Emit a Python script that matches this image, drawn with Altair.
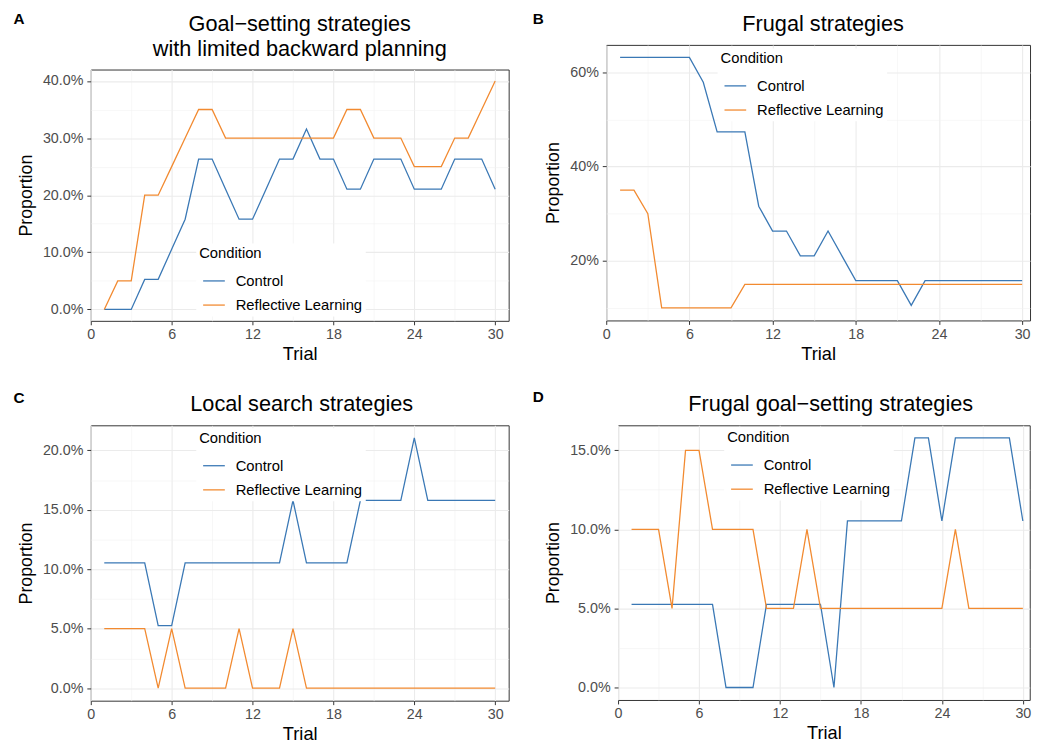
import json
import altair as alt
import pandas as pd

# ---------------- data ----------------
trials = list(range(1, 31))
conditions = ["Control", "Reflective Learning"]
colors = ["#3A78B5", "#F28A30"]

goal_control = [0.0, 0.0, 0.0, 0.0526, 0.0526, 0.1053, 0.1579, 0.2632, 0.2632, 0.2105,
                0.1579, 0.1579, 0.2105, 0.2632, 0.2632, 0.3158, 0.2632, 0.2632, 0.2105, 0.2105,
                0.2632, 0.2632, 0.2632, 0.2105, 0.2105, 0.2105, 0.2632, 0.2632, 0.2632, 0.2105]
goal_reflective = [0.0, 0.05, 0.05, 0.20, 0.20, 0.25, 0.30, 0.35, 0.35, 0.30,
                   0.30, 0.30, 0.30, 0.30, 0.30, 0.30, 0.30, 0.30, 0.35, 0.35,
                   0.30, 0.30, 0.30, 0.25, 0.25, 0.25, 0.30, 0.30, 0.35, 0.40]

frugal_control = [0.6316, 0.6316, 0.6316, 0.6316, 0.6316, 0.6316, 0.5789, 0.4737, 0.4737, 0.4737,
                  0.3158, 0.2632, 0.2632, 0.2105, 0.2105, 0.2632, 0.2105, 0.1579, 0.1579, 0.1579,
                  0.1579, 0.1053, 0.1579, 0.1579, 0.1579, 0.1579, 0.1579, 0.1579, 0.1579, 0.1579]
frugal_reflective = [0.35, 0.35, 0.30, 0.10, 0.10, 0.10, 0.10, 0.10, 0.10, 0.15,
                     0.15, 0.15, 0.15, 0.15, 0.15, 0.15, 0.15, 0.15, 0.15, 0.15,
                     0.15, 0.15, 0.15, 0.15, 0.15, 0.15, 0.15, 0.15, 0.15, 0.15]

local_control = [0.1053, 0.1053, 0.1053, 0.1053, 0.0526, 0.0526, 0.1053, 0.1053, 0.1053, 0.1053,
                 0.1053, 0.1053, 0.1053, 0.1053, 0.1579, 0.1053, 0.1053, 0.1053, 0.1053, 0.1579,
                 0.1579, 0.1579, 0.1579, 0.2105, 0.1579, 0.1579, 0.1579, 0.1579, 0.1579, 0.1579]
local_reflective = [0.05, 0.05, 0.05, 0.05, 0.0, 0.05, 0.0, 0.0, 0.0, 0.0,
                    0.05, 0.0, 0.0, 0.0, 0.05, 0.0, 0.0, 0.0, 0.0, 0.0,
                    0.0, 0.0, 0.0, 0.0, 0.0, 0.0, 0.0, 0.0, 0.0, 0.0]

fgoal_control = [0.0526, 0.0526, 0.0526, 0.0526, 0.0526, 0.0526, 0.0526, 0.0, 0.0, 0.0,
                 0.0526, 0.0526, 0.0526, 0.0526, 0.0526, 0.0, 0.1053, 0.1053, 0.1053, 0.1053,
                 0.1053, 0.1579, 0.1579, 0.1053, 0.1579, 0.1579, 0.1579, 0.1579, 0.1579, 0.1053]
fgoal_reflective = [0.10, 0.10, 0.10, 0.05, 0.15, 0.15, 0.10, 0.10, 0.10, 0.10,
                    0.05, 0.05, 0.05, 0.10, 0.05, 0.05, 0.05, 0.05, 0.05, 0.05,
                    0.05, 0.05, 0.05, 0.05, 0.10, 0.05, 0.05, 0.05, 0.05, 0.05]

titles = {
    "A": ["Goal\u2212setting strategies", "with limited backward planning"],
    "B": ["Frugal strategies"],
    "C": ["Local search strategies"],
    "D": ["Frugal goal\u2212setting strategies"],
}

x_major = [0, 6, 12, 18, 24, 30]
x_minor = [3, 9, 15, 21, 27]

FONT = "Liberation Sans"


def cond(test, a, b):
    return {"condition": {"test": test, "value": a}, "value": b}


def axis(title, majors, minors, fmt=None, is_y=False):
    test = "indexof(%s, datum.value) >= 0" % json.dumps(majors)
    kw = dict(
        title=title,
        values=sorted(majors + minors),
        labelExpr="%s ? datum.label : ''" % test,
        gridColor=cond(test, "#EBEBEB", "#F1F1F1"),
        gridWidth=cond(test, 1.1, 0.6),
        tickOpacity=cond(test, 1, 0),
        tickSize=4,
        tickColor="#333333",
        tickWidth=1,
        domain=False,
        labelFontSize=14.5,
        labelColor="#4D4D4D",
        labelFont=FONT,
        titleFont=FONT,
        titleFontSize=18.5 if not is_y else 18,
        titleFontWeight="normal",
        titleColor="black",
        labelFlush=False,
        labelOverlap=False,
        labelPadding=4 if is_y else 3,
        titlePadding=7 if is_y else 4,
    )
    if fmt:
        kw["format"] = fmt
    return alt.Axis(**kw)


def ydomain(a, b):
    lo = min(min(a), min(b))
    hi = max(max(a), max(b))
    pad = (hi - lo) * 0.05
    return [lo - pad, hi + pad]


def panel(letter, ctrl, refl, ymaj, ymin, fmt, xmax, width, height,
          legx, legy, letx, lety, titx, tity):
    df = pd.DataFrame({
        "Trial": trials + trials,
        "Proportion": ctrl + refl,
        "Condition": [conditions[0]] * len(trials) + [conditions[1]] * len(trials),
    })
    lines = alt.Chart(df).mark_line(strokeWidth=1.3).encode(
        x=alt.X("Trial:Q", scale=alt.Scale(domain=[0, xmax], nice=False, zero=False),
                axis=axis("Trial", x_major, x_minor)),
        y=alt.Y("Proportion:Q", scale=alt.Scale(domain=ydomain(ctrl, refl), nice=False, zero=False),
                axis=axis("Proportion", ymaj, ymin, fmt, True)),
        color=alt.Color("Condition:N", scale=alt.Scale(domain=conditions, range=colors),
                        legend=alt.Legend(
                            orient="none", legendX=legx, legendY=legy,
                            title="Condition", titleFontSize=15, titleFontWeight="normal",
                            titleColor="black", titleFont=FONT,
                            labelFontSize=15, labelColor="black", labelFont=FONT,
                            symbolType="stroke", symbolSize=484, symbolStrokeWidth=1.3,
                            labelOffset=10, symbolOffset=3, rowPadding=4.5, titlePadding=8,
                            padding=3, fillColor="white", direction="vertical")),
    )
    lab = alt.Chart(pd.DataFrame({"t": [letter]})).mark_text(
        font=FONT, fontSize=15.5, fontWeight="bold", align="left", baseline="alphabetic",
        color="black").encode(text="t:N", x=alt.value(letx), y=alt.value(lety))
    ttl = alt.Chart(pd.DataFrame({"t": [letter]})).mark_text(
        font=FONT, fontSize=22, align="center", baseline="alphabetic", lineHeight=25,
        color="black").encode(text=alt.value(titles[letter]), x=alt.value(titx), y=alt.value(tity))
    body = alt.layer(lines, lab, ttl).properties(width=width, height=height)
    # tiny invisible spacer so that the panel's full bounds (not its plot origin)
    # are what the outer grid aligns on
    spacer = alt.Chart(pd.DataFrame({"t": [letter]})).mark_point(opacity=0, size=0).encode(
        x=alt.value(0), y=alt.value(0)
    ).properties(width=1, height=1, view=alt.ViewBackground(stroke="transparent", fill="transparent"))
    return alt.vconcat(spacer, body, spacing=0).resolve_scale(
        color="independent", x="independent", y="independent").resolve_legend(color="independent")


pA = panel("A", goal_control, goal_reflective, [0, 0.1, 0.2, 0.3, 0.4], [0.05, 0.15, 0.25, 0.35],
           ".1%", 31, 424, 255, 107, 176.5, -78.3, -46.3, 212, -39.2)
pB = panel("B", frugal_control, frugal_reflective, [0.2, 0.4, 0.6], [0.1, 0.3, 0.5],
           ".0%", 30.57, 430, 279.6, 113, 3.6, -74.6, -21.5, 220, -13.7)
pC = panel("C", local_control, local_reflective, [0, 0.05, 0.1, 0.15, 0.2],
           [0.025, 0.075, 0.125, 0.175], ".1%", 31, 424, 279.4, 107, 3, -78.3, -22.6, 214, -14.1)
pD = panel("D", fgoal_control, fgoal_reflective, [0, 0.05, 0.1, 0.15], [0.025, 0.075, 0.125],
           ".1%", 30.51, 417.7, 278.7, 107.7, 2.3, -86.6, -23.3, 215.7, -14.8)

chart = alt.concat(
    pA, pB, pC, pD, columns=2, align="none", bounds="full",
    spacing={"row": 23, "column": 22},
).resolve_scale(
    color="independent", x="independent", y="independent"
).resolve_legend(color="independent").properties(
    padding={"left": 5, "top": -5, "right": 0, "bottom": 0},
    background="white",
).configure(font=FONT).configure_view(stroke="#333333", strokeWidth=1)

chart.save("out.html", embed_options={"renderer": "svg", "actions": False})
